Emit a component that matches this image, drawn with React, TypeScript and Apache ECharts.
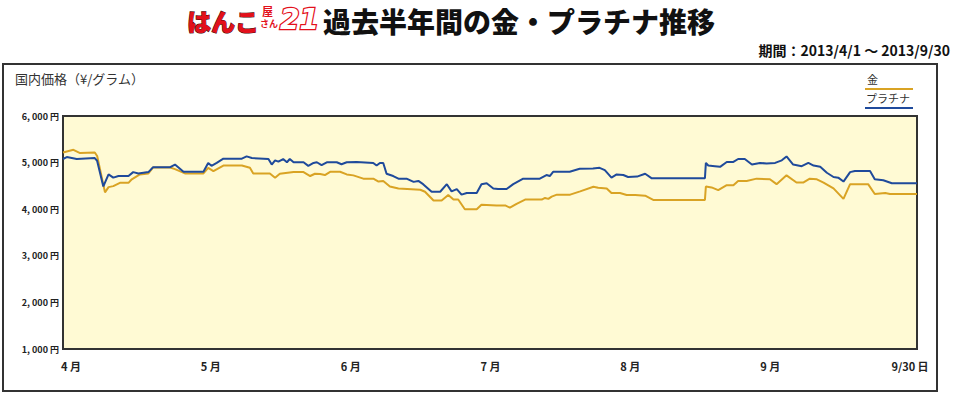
import React, { useEffect, useRef } from "react";
import * as echarts from "echarts";

const monthLabels = ["4 月", "5 月", "6 月", "7 月", "8 月", "9 月", "9/30 日"];
const monthTicks = [0, 30, 60, 90, 120, 150, 180];

const goldDays = [0, 2.2, 3.6, 6.7, 7.2, 8.85, 9.6, 10.6, 12.0, 13.8, 14.5, 16.2, 18.0, 19.0, 22.6, 23.6, 25.7, 29.6, 30.6, 31.7, 33.8, 37.7, 39.4, 40.1, 43.6, 44.7, 45.7, 48.6, 50.7, 52.1, 53.1, 54.2, 55.2, 56.3, 58.4, 59.8, 61.2, 63.3, 65.4, 66.5, 67.5, 68.9, 70.7, 75.3, 76.3, 78.1, 79.8, 81.2, 82.3, 83.3, 84.7, 87.2, 88.2, 91.4, 93.2, 94.2, 95.6, 97.4, 100.9, 101.6, 102.3, 103.0, 104.1, 106.9, 109.0, 111.8, 112.8, 114.6, 115.6, 117.4, 118.8, 120.6, 122.7, 124.4, 135.3, 135.5, 136.7, 138.1, 139.9, 141.3, 142.3, 144.1, 146.2, 149.0, 150.4, 152.5, 154.6, 156.0, 157.4, 158.9, 160.3, 162.4, 164.5, 165.9, 169.7, 171.1, 173.3, 174.3, 180];
const goldPrices = [5218, 5274, 5204, 5218, 5140, 4361, 4474, 4495, 4565, 4565, 4642, 4747, 4768, 4895, 4895, 4860, 4768, 4768, 4888, 4818, 4937, 4937, 4888, 4768, 4768, 4677, 4761, 4796, 4796, 4712, 4761, 4754, 4733, 4803, 4803, 4747, 4726, 4656, 4656, 4593, 4607, 4488, 4446, 4418, 4375, 4186, 4186, 4305, 4207, 4207, 4000, 4000, 4095, 4081, 4081, 4032, 4116, 4207, 4207, 4242, 4221, 4270, 4312, 4312, 4382, 4481, 4460, 4446, 4347, 4347, 4305, 4305, 4291, 4200, 4200, 4488, 4467, 4410, 4516, 4516, 4607, 4607, 4656, 4642, 4537, 4726, 4572, 4572, 4656, 4642, 4572, 4446, 4221, 4537, 4537, 4326, 4347, 4326, 4326];

const platDays = [0, 0.8, 2.9, 6.7, 7.2, 8.5, 9.6, 10.6, 11.7, 13.8, 14.8, 15.9, 18.0, 19.0, 22.6, 23.6, 25.4, 29.6, 30.6, 31.3, 32.4, 33.8, 37.7, 38.7, 39.8, 43.3, 44.0, 44.7, 45.4, 46.4, 47.2, 47.8, 48.6, 50.7, 51.7, 52.8, 53.5, 54.5, 55.6, 57.7, 58.7, 59.8, 61.9, 65.4, 66.1, 66.8, 67.5, 68.2, 69.6, 70.7, 72.4, 73.9, 74.9, 75.9, 77.7, 79.5, 80.9, 81.9, 83.0, 84.0, 85.1, 87.2, 88.2, 89.3, 90.7, 91.7, 93.5, 94.9, 97.0, 100.5, 101.9, 102.6, 103.3, 106.8, 108.9, 111.7, 113.1, 114.2, 115.6, 116.7, 118.1, 119.1, 121.0, 122.7, 124.1, 135.3, 135.5, 136.0, 137.4, 138.5, 139.9, 141.3, 142.3, 143.7, 145.2, 146.9, 148.3, 150.1, 151.5, 152.5, 153.9, 155.7, 157.1, 158.2, 159.6, 161.0, 162.4, 163.4, 164.5, 165.9, 166.9, 170.1, 171.1, 172.9, 174.7, 180];
const platPrices = [5077, 5119, 5077, 5098, 5035, 4488, 4747, 4677, 4712, 4712, 4796, 4768, 4796, 4902, 4902, 4958, 4803, 4803, 4993, 4930, 4993, 5084, 5084, 5133, 5098, 5077, 4958, 5049, 5021, 5077, 5007, 5077, 5007, 5007, 4930, 4993, 5007, 4944, 5007, 5007, 4965, 5007, 5014, 4993, 4937, 4993, 4993, 4761, 4712, 4656, 4656, 4586, 4607, 4537, 4375, 4375, 4537, 4382, 4432, 4312, 4347, 4347, 4537, 4558, 4446, 4432, 4432, 4537, 4656, 4656, 4733, 4712, 4803, 4803, 4867, 4874, 4888, 4839, 4677, 4747, 4733, 4691, 4700, 4761, 4663, 4663, 4993, 4937, 4923, 4909, 5014, 5014, 5077, 5077, 4958, 4993, 4979, 4993, 5049, 5133, 4958, 4923, 4993, 4937, 4909, 4782, 4691, 4677, 4593, 4796, 4818, 4818, 4642, 4621, 4558, 4558];

const GOLD = "#D9A324";
const PLAT = "#1F4A9B";
const JP = "'Noto Sans CJK JP', sans-serif";

export default function App() {
  const ref = useRef<HTMLDivElement>(null);
  useEffect(() => {
    if (!ref.current) return;
    const chart = echarts.init(ref.current, undefined, { renderer: "svg" });
    const gold = goldDays.map((d, i) => [d, goldPrices[i]]);
    const plat = platDays.map((d, i) => [d, platPrices[i]]);
    chart.setOption({
      animation: false,
      backgroundColor: "#ffffff",
      grid: {
        left: 63,
        right: 43,
        top: 116,
        bottom: 45,
        show: true,
        backgroundColor: "#FFFAD4",
        borderColor: "#333333",
        borderWidth: 2,
        z: 1,
      },
      xAxis: [
        {
          type: "value",
          min: 0,
          max: 180,
          interval: 30,
          show: false,
          splitLine: { show: false },
        },
        {
          type: "value",
          position: "bottom",
          min: -1.716,
          max: 181.5,
          axisLine: { show: false },
          axisTick: { show: false },
          splitLine: { show: false },
          axisLabel: {
            customValues: monthTicks,
            formatter: (v: number) => monthLabels[Math.round(v / 30)] ?? "",
            color: "#222",
            fontSize: 11,
            fontWeight: "bold",
            fontFamily: JP,
            margin: 11,
          },
        },
      ],
      yAxis: {
        type: "value",
        min: 1000,
        max: 6000,
        interval: 1000,
        axisLine: { show: true, lineStyle: { color: "#333", width: 2 } },
        axisTick: { show: false },
        splitLine: { show: true, lineStyle: { color: "#1a1a1a", width: 1.5 } },
        axisLabel: {
          formatter: (v: number) => `${Math.floor(v / 1000)}, ${String(v % 1000).padStart(3, "0")} 円`,
          color: "#222",
          fontSize: 9,
          fontWeight: "bold",
          fontFamily: JP,
          margin: 4,
        },
      },
      series: [
        {
          name: "金",
          type: "line",
          xAxisIndex: 0,
          data: gold,
          showSymbol: false,
          lineStyle: { color: GOLD, width: 2 },
          itemStyle: { color: GOLD },
          z: 3,
        },
        {
          name: "プラチナ",
          type: "line",
          xAxisIndex: 0,
          data: plat,
          showSymbol: false,
          lineStyle: { color: PLAT, width: 2 },
          itemStyle: { color: PLAT },
          z: 4,
        },
      ],
      graphic: [
        {
          type: "rect",
          shape: { x: 3, y: 64, width: 934, height: 327 },
          style: { fill: "none", stroke: "#333", lineWidth: 2 },
          z: 0,
        },
        // logo
        {
          type: "text",
          x: 187,
          y: 8,
          style: {
            text: "はんこ",
            fill: "#E3101B",
            font: `900 24px ${JP}`,
            stroke: "#3a0000",
            lineWidth: 1,
          },
        },
        {
          type: "text",
          x: 262,
          y: 5,
          style: { text: "屋", fill: "#E3101B", font: `bold 11px ${JP}` },
        },
        {
          type: "text",
          x: 260,
          y: 19,
          style: { text: "さん", fill: "#E3101B", font: `bold 9px ${JP}` },
        },
        {
          type: "text",
          x: 280,
          y: 5,
          style: {
            text: "21",
            fill: "#ffffff",
            stroke: "#E3101B",
            lineWidth: 2.5,
            font: `italic 900 28px 'DejaVu Sans', sans-serif`,
          },
        },
        {
          type: "text",
          x: 323,
          y: 7,
          style: {
            text: "過去半年間の金・プラチナ推移",
            fill: "#111",
            font: `900 28px ${JP}`,
          },
        },
        {
          type: "text",
          x: 950,
          y: 43,
          style: {
            text: "期間：2013/4/1 〜 2013/9/30",
            fill: "#111",
            align: "right",
            font: `bold 14px 'Liberation Sans Narrow', 'Noto Sans CJK JP', sans-serif`,
          },
        },
        {
          type: "text",
          x: 15,
          y: 72,
          style: {
            text: "国内価格（¥/グラム）",
            fill: "#333",
            font: `13px ${JP}`,
          },
        },
        // legend
        {
          type: "text",
          x: 867,
          y: 73,
          style: { text: "金", fill: "#333", font: `11px ${JP}` },
        },
        {
          type: "line",
          shape: { x1: 865, y1: 89, x2: 913, y2: 89 },
          style: { stroke: GOLD, lineWidth: 2 },
        },
        {
          type: "text",
          x: 866,
          y: 92,
          style: { text: "プラチナ", fill: "#333", font: `11px ${JP}` },
        },
        {
          type: "line",
          shape: { x1: 865, y1: 108, x2: 913, y2: 108 },
          style: { stroke: PLAT, lineWidth: 2 },
        },
      ],
    });
    return () => chart.dispose();
  }, []);
  return (
    <div
      ref={ref}
      style={{ position: "fixed", left: 0, top: 0, width: 960, height: 394 }}
    />
  );
}
